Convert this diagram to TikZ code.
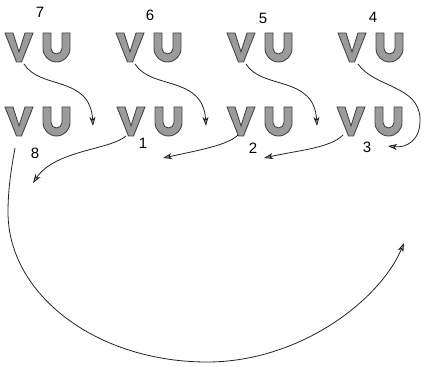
\documentclass[tikz,border=0pt]{standalone}
\usepackage{fontspec}
\setmainfont{Liberation Sans}
\usetikzlibrary{arrows.meta, positioning}
\definecolor{letterfill}{RGB}{155,155,155}
\definecolor{letteredge}{RGB}{70,70,70}
\definecolor{linedark}{RGB}{35,35,35}
\tikzset{
  letter/.style={fill=letterfill, draw=letteredge, line width=0.9pt, line join=miter},
  vu/.pic={
    \draw[letter] (0,0) -- (8,0) -- (14,19) -- (20,0) -- (28,0) -- (16.5,29) -- (11.5,29) -- cycle;
    \draw[letter] (38,0) -- (38,15.5) arc (180:0:13.5) -- (65,0) -- (57,0) -- (57,15.5) arc (0:180:5.5) -- (46,0) -- cycle;
  },
  num/.style={font=\fontsize{15}{17}\selectfont, inner sep=0pt},
  arrow/.style={-{Stealth[length=9pt, width=6pt, inset=2.5pt, fill=letterfill]}, line width=0.8pt, color=linedark}
}
\begin{document}
\begin{tikzpicture}[x=1pt, y=-1pt]
  \useasboundingbox (0,0) rectangle (422,366);

  \pic at (5,33) {vu};
  \pic at (116,33) {vu};
  \pic at (227,33) {vu};
  \pic at (338,33) {vu};
  \pic at (5,107) {vu};
  \pic at (117,107) {vu};
  \pic at (227,107) {vu};
  \pic at (337,107) {vu};

  \node[num] (n7) at (40,12) {7};
  \node[num] (n6) at (150,15) {6};
  \node[num] (n5) at (263,18) {5};
  \node[num] (n4) at (373,17) {4};
  \node[num] (n8) at (35,153) {8};
  \node[num] (n1) at (143,143) {1};
  \node[num] (n2) at (253,148) {2};
  \node[num] (n3) at (367,147) {3};

  \coordinate (v7) at (24,64);
  \coordinate (v6) at (135,64);
  \coordinate (v5) at (246,64);
  \coordinate (v4) at (358,64);
  \coordinate (v8) at (15,148);
  \coordinate (v1) at (126,136);
  \coordinate (v2) at (238,135);
  \coordinate (v3) at (343,135);
  \coordinate (t8) at (93,126);
  \coordinate (t1) at (206,126);
  \coordinate (t2) at (317,126);
  \coordinate (t3) at (388,146);
  \coordinate (t7) at (33,183);
  \coordinate (t6) at (163,158);
  \coordinate (t5) at (264,158);
  \coordinate (t4) at (404,243);

  \draw[arrow] (v7) .. controls (40,90) and (90,75) .. (t8);
  \draw[arrow] (v6) .. controls (151,90) and (203,75) .. (t1);
  \draw[arrow] (v5) .. controls (262,90) and (314,75) .. (t2);
  \draw[arrow] (v4) .. controls (375,88) and (418,85) .. (420,118) .. controls (421,142) and (405,148) .. (t3);
  \draw[arrow] (v1) .. controls (110,150) and (55,150) .. (t7);
  \draw[arrow] (v2) .. controls (228,145) and (200,150) .. (t6);
  \draw[arrow] (v3) .. controls (330,148) and (300,150) .. (t5);
  \draw[arrow] (v8) .. controls (11,170) and (8,190) .. (8,212) .. controls (8,295) and (97,362) .. (207,362) .. controls (300,362) and (380,300) .. (t4);
\end{tikzpicture}
\end{document}
